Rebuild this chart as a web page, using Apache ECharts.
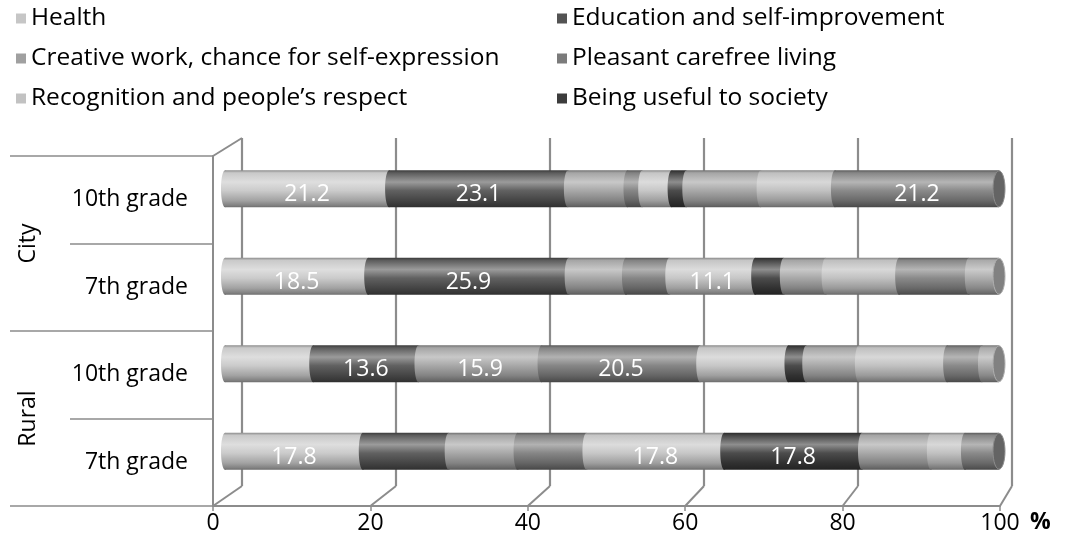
<!DOCTYPE html>
<html>
<head>
<meta charset="utf-8">
<script src="https://cdn.jsdelivr.net/npm/echarts@6/dist/echarts.min.js"></script>
<style>
  html, body { margin: 0; padding: 0; background: #fff; }
  #chart { width: 1077px; height: 553px; }
</style>
</head>
<body>
<div id="chart"></div>
<script>
// Row groups and grade labels (top to bottom)
const rowGroups = ['City', 'City', 'Rural', 'Rural'];
const groupLabels = ['City', 'Rural'];
const gradeLabels = ['10th grade', '7th grade', '10th grade', '7th grade'];

// Answer options, in stacking order
const optionNames = [
  'Health',
  'Education and self-improvement',
  'Creative work, chance for self-expression',
  'Pleasant carefree living',
  'Recognition and people’s respect',
  'Being useful to society',
  'Other 7',
  'Other 8',
  'Other 9',
  'Other 10'
];

// Shares (%) per row, one value per answer option
const city10th  = [21.2, 23.1, 7.7, 1.9, 3.8, 1.9, 9.6, 9.6, 21.2, 0];
const city7th   = [18.5, 25.9, 7.4, 5.6, 11.1, 3.7, 5.4, 9.5, 9.0, 3.9];
const rural10th = [11.4, 13.6, 15.9, 20.5, 11.4, 2.3, 6.8, 11.4, 4.5, 2.2];
const rural7th  = [17.8, 11.1, 8.9, 8.9, 17.8, 17.8, 8.9, 4.4, 4.4, 0];

const xTickStep = 20;

// Grey tones of the answer options
const optionColors = ['#c6c6c6', '#535353', '#a0a0a0', '#7b7b7b', '#c2c2c2', '#3c3c3c', '#a0a0a0', '#bcbcbc', '#808080', '#a6a6a6'];

const FONT = 'Open Sans';
const rows = [city10th, city7th, rural10th, rural7th];
const rowKeys = gradeLabels.map((g, i) => rowGroups[i] + ' ' + g);

function mix(hex, amt) {
  const n = parseInt(hex.slice(1), 16);
  const ch = [n >> 16, (n >> 8) & 255, n & 255].map(c =>
    Math.round(amt >= 0 ? c + (255 - c) * amt : c * (1 + amt)));
  return 'rgb(' + ch.join(',') + ')';
}
function cylinderFill(c) {
  return new echarts.graphic.LinearGradient(0, 0, 0, 1, [
    { offset: 0, color: mix(c, -0.3) },
    { offset: 0.07, color: mix(c, 0.05) },
    { offset: 0.32, color: mix(c, 0.42) },
    { offset: 0.55, color: mix(c, 0.08) },
    { offset: 0.82, color: mix(c, -0.18) },
    { offset: 0.95, color: mix(c, -0.35) },
    { offset: 1, color: mix(c, -0.45) }
  ]);
}

// the three largest shares of each row carry a value label
const labelThreshold = rows.map(r => r.slice().sort((a, b) => b - a)[2]);
// last non-empty segment of each row gets the end cap
const lastIndex = rows.map(r => { let k = r.length - 1; while (k > 0 && !(r[k] > 0)) k--; return k; });

const series = optionNames.map((name, si) => {
  const data = rows.map((r, ri) => {
    let start = 0;
    for (let k = 0; k < si; k++) start += r[k];
    return [start, start + r[si], ri, r[si], r[si] >= labelThreshold[ri] ? 1 : 0, lastIndex[ri] === si ? 1 : 0];
  });
  const base = optionColors[si];
  return {
    type: 'custom',
    name: name,
    xAxisIndex: 0,
    yAxisIndex: 0,
    itemStyle: { color: base },
    encode: { x: [0, 1], y: 2 },
    data: data,
    renderItem: function (params, api) {
      const s = api.value(0), e = api.value(1), c = api.value(2), v = api.value(3);
      if (!(v > 0)) return;
      const p0 = api.coord([s, c]);
      const p1 = api.coord([e, c]);
      const h = api.size([0, 1])[1] * 0.423;
      const top = p0[1] - h / 2;
      const fill = cylinderFill(base);
      const children = [
        { type: 'ellipse', shape: { cx: p0[0], cy: p0[1], rx: 4, ry: h / 2 }, style: { fill: fill } },
        { type: 'rect', shape: { x: p0[0], y: top, width: Math.max(0, p1[0] - p0[0]), height: h }, style: { fill: fill } }
      ];
      if (api.value(5) === 1) {
        children.push({
          type: 'ellipse',
          shape: { cx: p1[0], cy: p1[1], rx: 6, ry: h / 2 - 0.5 },
          style: { fill: mix(base, -0.22), stroke: mix(base, 0.1), lineWidth: 1 }
        });
      }
      if (api.value(4) === 1) {
        children.push({
          type: 'text',
          style: {
            text: v.toFixed(1),
            x: (p0[0] + p1[0]) / 2,
            y: p0[1] + 6,
            fill: '#ffffff',
            fontSize: 23,
            fontFamily: FONT,
            align: 'center',
            verticalAlign: 'middle'
          }
        });
      }
      return { type: 'group', children: children };
    }
  };
});

const frameColor = '#8c8c8c';
const legendCommon = {
  orient: 'vertical',
  top: 6,
  padding: 0,
  itemGap: 15,
  itemWidth: 10,
  itemHeight: 10,
  icon: 'rect',
  textStyle: { fontSize: 24.5, lineHeight: 24, color: '#000', fontFamily: FONT }
};

const option = {
  animation: false,
  textStyle: { fontFamily: FONT },
  legend: [
    Object.assign({ left: 16, data: [optionNames[0], optionNames[2], optionNames[4]] }, legendCommon),
    Object.assign({ left: 557, data: [optionNames[1], optionNames[3], optionNames[5]] }, legendCommon)
  ],
  grid: [
    { left: 225, right: 78, top: 145, bottom: 58 },   // cylinders
    { left: 242, right: 65, top: 138, bottom: 67 },   // back wall
    { left: 213, right: 77, top: 156, bottom: 47 }    // front frame
  ],
  xAxis: [
    { gridIndex: 0, type: 'value', min: 0, max: 100, show: false, position: 'bottom' },
    {
      gridIndex: 1, type: 'value', min: 0, max: 100, interval: xTickStep, position: 'bottom',
      axisLine: { show: false }, axisTick: { show: false }, axisLabel: { show: false },
      splitLine: { show: true, lineStyle: { color: frameColor, width: 2.2 } }
    },
    {
      gridIndex: 2, type: 'value', min: 0, max: 100, interval: xTickStep, position: 'bottom',
      splitLine: { show: false },
      axisLine: { show: true, onZero: false, lineStyle: { color: frameColor, width: 2 } },
      axisTick: { show: true, length: 5, lineStyle: { color: frameColor, width: 1.5 } },
      axisLabel: { fontSize: 23, margin: 6, color: '#000', fontFamily: FONT },
      name: '%', nameLocation: 'end', nameGap: 30,
      nameTextStyle: { fontSize: 23, fontWeight: 'bold', color: '#000', fontFamily: FONT, verticalAlign: 'top', lineHeight: 23, padding: [5, 0, 0, 0] }
    }
  ],
  yAxis: [
    { gridIndex: 0, type: 'category', data: rowKeys, inverse: true, show: false, position: 'left' },
    { gridIndex: 1, type: 'value', min: 0, max: 1, show: false, position: 'left' },
    {
      gridIndex: 2, type: 'category', data: rowKeys, inverse: true, position: 'left',
      axisLine: { show: true, onZero: false, lineStyle: { color: frameColor, width: 2 } },
      axisTick: { show: true, length: 143, lineStyle: { color: frameColor, width: 1.5 } },
      axisLabel: { fontSize: 23, margin: 25, color: '#000', fontFamily: FONT, formatter: (val, idx) => gradeLabels[idx] },
      splitLine: { show: false }
    },
    {
      gridIndex: 2, type: 'category', data: groupLabels, inverse: true, position: 'left',
      axisLine: { show: false },
      axisTick: { show: true, length: 203, lineStyle: { color: frameColor, width: 1.5 } },
      axisLabel: { fontSize: 23, margin: 173, rotate: 90, color: '#000', fontFamily: FONT },
      splitLine: { show: false }
    },
    { gridIndex: 2, type: 'value', min: 0, max: 1, show: false, position: 'right' }
  ],
  series: series
};

const chart = echarts.init(document.getElementById('chart'), null, { renderer: 'canvas' });
chart.setOption(option);

// Floor and wall edges joining the front frame to the back wall
const xFront = v => chart.convertToPixel({ xAxisIndex: 2 }, v);
const xBack = v => chart.convertToPixel({ xAxisIndex: 1 }, v);
const yFrontBottom = chart.convertToPixel({ yAxisIndex: 4 }, 0);
const yFrontTop = chart.convertToPixel({ yAxisIndex: 4 }, 1);
const yBackBottom = chart.convertToPixel({ yAxisIndex: 1 }, 0);
const yBackTop = chart.convertToPixel({ yAxisIndex: 1 }, 1);
const edges = [];
for (let v = 0; v <= 100; v += xTickStep) {
  edges.push([xFront(v), yFrontBottom, xBack(v), yBackBottom]);
}
edges.push([xFront(0), yFrontTop, xBack(0), yBackTop]);
chart.setOption({
  graphic: edges.map(e => ({
    type: 'line',
    silent: true,
    shape: { x1: e[0], y1: e[1], x2: e[2], y2: e[3] },
    style: { stroke: frameColor, lineWidth: 2 }
  }))
});
</script>
</body>
</html>
